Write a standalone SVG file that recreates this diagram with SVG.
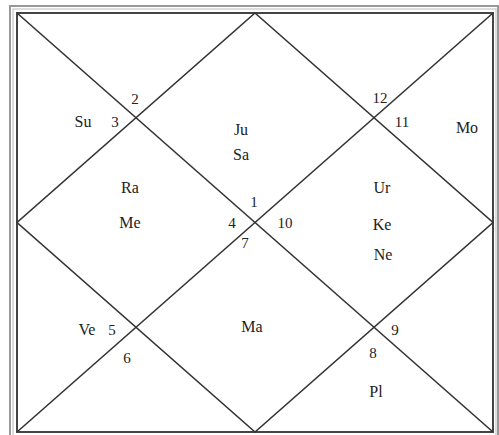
<svg xmlns="http://www.w3.org/2000/svg" width="499" height="435" viewBox="0 0 499 435">
<style>
.p{font-family:"Liberation Serif","Times New Roman",serif;font-size:16px;fill:#222;text-anchor:middle}
.n{font-family:"Liberation Serif","Times New Roman",serif;font-size:15px;fill:#222;text-anchor:middle}
.l{stroke:#333;stroke-width:1.6;fill:none}
</style>
<rect x="0" y="0" width="499" height="435" fill="#fff"/>
<g id="frame">
<rect x="10" y="6" width="488" height="432" fill="none" stroke="#999" stroke-width="2"/>
<rect x="13" y="9" width="483" height="427" fill="none" stroke="#bbb" stroke-width="1"/>
<rect x="17" y="13" width="476" height="419" fill="none" stroke="#444" stroke-width="2"/>
</g>
<g id="connectors">
<line class="l" x1="17" y1="13" x2="493" y2="432"/>
<line class="l" x1="493" y1="13" x2="17" y2="432"/>
<polygon class="l" points="255,13 493,222.5 255,432 17,222.5"/>
</g>
<g id="house1"><text class="n" x="254" y="207">1</text><text class="p" x="241" y="135">Ju</text><text class="p" x="241" y="160">Sa</text></g>
<g id="house2"><text class="n" x="135" y="104">2</text></g>
<g id="house3"><text class="n" x="115" y="127">3</text><text class="p" x="83" y="127">Su</text></g>
<g id="house4"><text class="n" x="232" y="228">4</text><text class="p" x="130" y="193">Ra</text><text class="p" x="130" y="228">Me</text></g>
<g id="house5"><text class="n" x="112" y="335">5</text><text class="p" x="87" y="335">Ve</text></g>
<g id="house6"><text class="n" x="127" y="363">6</text></g>
<g id="house7"><text class="n" x="245" y="248">7</text><text class="p" x="252" y="332">Ma</text></g>
<g id="house8"><text class="n" x="373" y="358">8</text><text class="p" x="376" y="397">Pl</text></g>
<g id="house9"><text class="n" x="395" y="335">9</text></g>
<g id="house10"><text class="n" x="285" y="228">10</text><text class="p" x="382" y="193">Ur</text><text class="p" x="382" y="230">Ke</text><text class="p" x="383" y="260">Ne</text></g>
<g id="house11"><text class="n" x="402" y="127">11</text><text class="p" x="467" y="133">Mo</text></g>
<g id="house12"><text class="n" x="380" y="103">12</text></g>
</svg>
